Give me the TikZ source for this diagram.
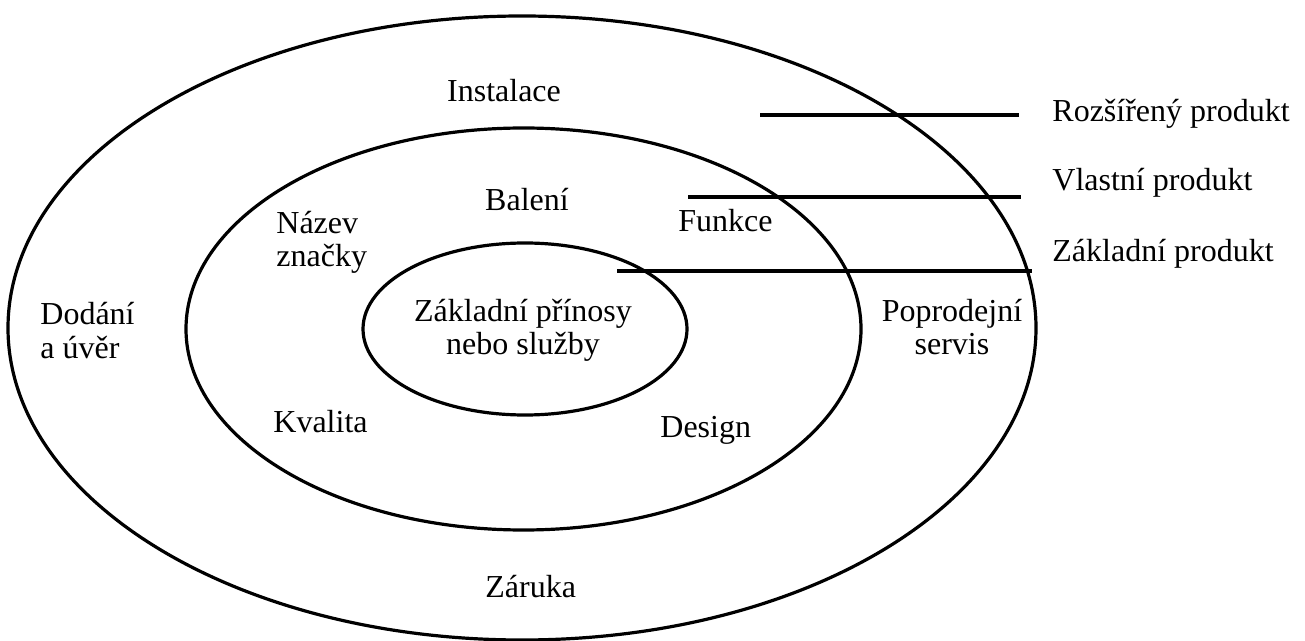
\documentclass[tikz,border=0pt]{standalone}
\usepackage{fontspec}
\setmainfont{Liberation Serif}
\usepackage{tikz}
\usetikzlibrary{shapes.geometric}
\tikzstyle{ring} = [ellipse, draw=black, line width=1.6pt, inner sep=0pt]
\tikzstyle{txt} = [font=\fontsize{16}{16.6}\selectfont, inner sep=0pt]
\tikzstyle{txtl} = [txt, anchor=base west, align=left]
\tikzstyle{txtc} = [txt, anchor=base, align=center]
\tikzstyle{leader} = [line width=1.7pt]

\begin{document}
\begin{tikzpicture}[x=0.5pt, y=-0.5pt]
\useasboundingbox (0,0) rectangle (1305,641);
\node (outer) [ring, minimum width=514pt, minimum height=312pt] at (522,328) {};
\node (actual) [ring, minimum width=337.5pt, minimum height=201pt] at (523.5,329) {};
\node (core) [ring, minimum width=162pt, minimum height=86pt] at (525,329) {};
\node (instalace) [txtc] at (504,102) {Instalace};
\node (baleni) [txtc] at (527,211) {Balení};
\node (nazev) [txtl] at (276,267) {Název\\značky};
\node (funkce) [txtl] at (678,232) {Funkce};
\node (prinosy) [txtc] at (523,355) {Základní přínosy\\nebo služby};
\node (dodani) [txtl] at (40,358) {Dodání\\a úvěr};
\node (servis) [txtc] at (952,355) {Poprodejní\\servis};
\node (kvalita) [txtl] at (273,432) {Kvalita};
\node (design) [txtl] at (660,437) {Design};
\node (zaruka) [txtl] at (485,597) {Záruka};
\node (rozsireny) [txtl] at (1052,122) {Rozšířený produkt};
\node (vlastni) [txtl] at (1052,191) {Vlastní produkt};
\node (zakladni) [txtl] at (1052,262) {Základní produkt};
\coordinate (r1) at (760,115);
\coordinate (r1e) at (1019,115);
\coordinate (r2) at (688,197);
\coordinate (r2e) at (1021,197);
\coordinate (r3) at (617,271);
\coordinate (r3e) at (1032,271);
\draw [leader] (r1) -- (r1e);
\draw [leader] (r2) -- (r2e);
\draw [leader] (r3) -- (r3e);
\end{tikzpicture}
\end{document}
